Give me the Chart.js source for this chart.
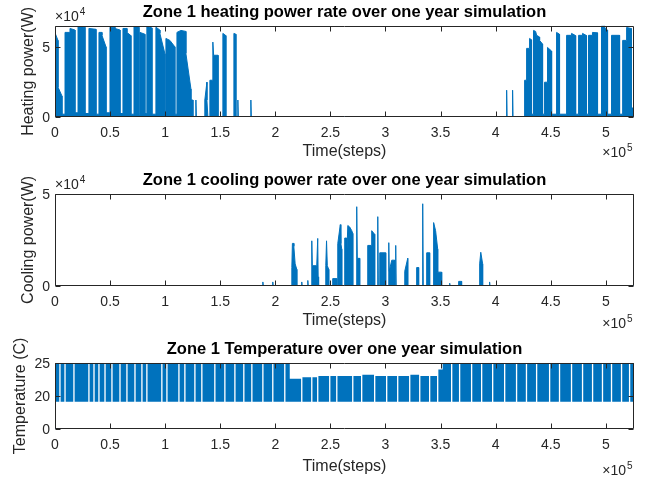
<!DOCTYPE html>
<html>
<head>
<meta charset="utf-8">
<script src="https://cdn.jsdelivr.net/npm/chart.js@4.4.0/dist/chart.umd.min.js"></script>
<style>
html, body { margin: 0; padding: 0; background: #fff; overflow: hidden; }
#wrap { position: relative; width: 646px; height: 479px; }
canvas { position: absolute; left: 0; }
.ytick { position: absolute; left: 0; width: 50px; height: 16px; line-height: 16px; text-align: right;
         font: 14px "Liberation Sans", Arial, Helvetica, sans-serif; color: #262626; }
</style>
</head>
<body>
<div id="wrap">
  <canvas id="heatChart" width="646" height="168" style="top:0px"></canvas>
  <canvas id="coolChart" width="646" height="170" style="top:168px"></canvas>
  <canvas id="tempChart" width="646" height="142" style="top:337px"></canvas>
</div>
<script>
// time axis (steps, one year of minutes)
var timeMax = 525600;

// heating power (W)
var heatX = [0, 2700, 2700, 6300, 6300, 9100, 9100, 13600, 13600, 18100, 18100, 20900, 20900, 27200, 27200, 30800,
  30800, 37200, 37200, 39900, 39900, 42600, 42600, 46300, 46300, 49900, 49900, 54400, 54400, 59000, 59000, 61700,
  61700, 65300, 65300, 68900, 68900, 71700, 71700, 76200, 76200, 77100, 77100, 81600, 81600, 83400, 83400, 88000,
  88000, 91600, 91600, 95200, 95200, 99800, 99800, 100700, 100700, 104300, 108800, 108800, 110700, 110700, 114300,
  118800, 118800, 123400, 123400, 125200, 125200, 127900, 127900, 128300, 136000, 136000, 137900, 137900, 138800,
  140600, 140600, 143300, 143300, 144000, 148000, 148000, 152400, 152400, 155100, 155100, 162400, 162400, 164200,
  164200, 166000, 166000, 166400, 177800, 177800, 178200,
  410000, 410000, 410400, 415400, 415400, 415800, 426300, 426300, 428100, 428100, 430800, 430800, 432600, 432600,
  434400, 434400, 436300, 437200, 439900, 439900, 442600, 442600, 444400, 444400, 447100, 447100, 450800, 450800,
  455300, 455300, 458000, 458000, 464400, 464400, 468900, 468900, 472600, 472600, 475300, 475300, 478900, 478900,
  482500, 482500, 484300, 484300, 487900, 487900, 492500, 492500, 496100, 496100, 498900, 498900, 501600, 501600,
  505200, 505200, 512500, 512500, 515300, 515300, 518900, 518900, 523300, 523300, 525600];
var heatY = [60000, 54600, 21300, 15000, 2000, 2000, 60300, 60300, 63100, 62000, 3000, 3000, 64500, 64000, 2500, 2500,
  63100, 62500, 2000, 2000, 60300, 60300, 58200, 50000, 3000, 3000, 64000, 64000, 63100, 62000, 2500, 2500,
  63100, 63100, 60300, 58000, 2000, 2000, 64500, 64000, 2000, 2000, 60300, 59000, 2500, 2500, 64500, 63500,
  2000, 2000, 64000, 62000, 59600, 45000, 2000, 2000, 56000, 54600, 50000, 2000, 2000, 60300, 61700,
  61000, 45400, 20000, 12100, 12100, 0, 0, 12100, 0, 0, 12100, 24800, 12100, 0,
  0, 26200, 26200, 53400, 44000, 44000, 0, 0, 59600, 58000, 0, 0, 59600, 59000,
  0, 0, 12100, 0, 0, 12100, 0,
  0, 19100, 0, 0, 19100, 0, 0, 26200, 26200, 48900, 48900, 56000, 55000, 2000,
  2000, 61700, 61000, 58200, 57000, 54600, 52000, 2000, 2000, 24800, 24800, 49600, 47000, 2000,
  2000, 60300, 59000, 2000, 2000, 58200, 58200, 59600, 58000, 2000, 2000, 58200, 58200, 59600,
  58000, 2000, 2000, 58200, 58200, 60300, 60000, 2000, 2000, 65000, 65000, 63800, 62000, 2000,
  2000, 58200, 58200, 2000, 2000, 54600, 54600, 63800, 63000, 6400, 6400];

// cooling power (W)
var coolX = [0, 188700, 188700, 189100, 197700, 197700, 198100, 215000, 215000, 215500, 216800, 216800, 218000, 219500,
  219500, 224000, 224000, 224400, 229500, 229500, 229900, 233100, 233100, 233600, 237600, 238500, 238900, 239300,
  245800, 245800, 246500, 247200, 248500, 248500, 252100, 252100, 255800, 255800, 256700, 256700, 259000, 259500,
  260300, 260300, 263000, 263000, 264800, 264800, 265800, 267500, 269400, 270300, 270300, 273400, 273900, 274400,
  276600, 276600, 283900, 283900, 287500, 287500, 290200, 290200, 293000, 293000, 293500, 294800, 294800, 300200,
  300200, 303000, 303000, 303400, 305700, 308400, 308400, 309300, 309300, 309700, 317500, 317500, 320200, 320200,
  328300, 328300, 330100, 330100, 333800, 333800, 334300, 337400, 337400, 340100, 340100, 343700, 343700, 345500,
  347400, 347400, 351000, 351000, 358300, 358300, 358700, 366400, 366400, 369100, 369100, 385500, 385500, 386500,
  388200, 388200, 394500, 394500, 394900, 525600];
var coolY = [0, 0, 2200, 0, 0, 2200, 0, 0, 10000, 23100, 23100, 21500, 12000, 9000,
  0, 0, 2200, 0, 0, 3000, 0, 0, 24500, 11000, 11000, 25800, 5000, 0,
  0, 11000, 24500, 11000, 9000, 0, 0, 4000, 4000, 0, 0, 23000, 33300, 23000,
  20000, 0, 0, 26000, 26000, 15000, 32800, 32000, 30000, 28500, 0, 0, 43000, 15000,
  15000, 0, 0, 22000, 22000, 30000, 28000, 0, 0, 37600, 0, 0, 18000, 18000,
  0, 0, 23500, 8000, 14000, 14000, 0, 0, 22000, 0, 0, 8000, 15000, 0,
  0, 10000, 10000, 0, 0, 44600, 0, 0, 18000, 18000, 0, 0, 34400, 30000,
  20000, 7500, 7500, 0, 0, 1500, 0, 0, 2500, 2500, 0, 0, 12000, 18300,
  12000, 0, 0, 2200, 0, 0];

// zone temperature: dense oscillation bands (start, end, upper value), gaps between them
var tempStart = [0, 5100, 9700, 17800, 31400, 36000, 40500, 46000, 52300, 59600, 65900, 73200, 79500, 84000,
  97600, 102200, 113100, 118500, 127600, 133900, 145700, 154800, 163900, 172000, 179300, 189300, 198300, 209200,
  213100, 224600, 233700, 239100, 250000, 256400, 270900, 279000, 290800, 301700, 311700, 322600, 331700, 340700, 348000,
  351900, 360700, 367900, 378800, 387900, 397900, 408800, 419600, 428600, 437800, 449600, 458600, 469500, 479500,
  488600, 497600, 505800, 514900, 522200];
var tempEnd = [3900, 8500, 16600, 30200, 34800, 39300, 44800, 51100, 58400, 64700, 72000, 78300, 82800, 96400,
  101000, 111900, 117300, 126400, 132700, 144500, 153600, 162700, 170800, 178100, 188100, 197100, 208000, 213100,
  223400, 232500, 237900, 248800, 255200, 269700, 277800, 289600, 300500, 310500, 321400, 330500, 339500, 346800, 351900,
  359500, 366700, 377600, 386700, 396700, 407600, 418400, 427400, 436600, 448400, 457400, 468300, 478300, 487400,
  496400, 504600, 513700, 521000, 525600];
var tempTop = [25, 25, 25, 25, 25, 25, 25, 25, 25, 25, 25, 25, 25, 25,
  25, 25, 25, 25, 25, 25, 25, 25, 25, 25, 25, 25, 25, 25,
  22.6, 22.8, 22.8, 23, 23, 23, 23, 23.2, 23, 23, 23, 23.2, 23, 23, 24,
  25, 25, 25, 25, 25, 25, 25, 25, 25, 25, 25, 25, 25, 25,
  25, 25, 25, 25, 25];
var tempBottom = 19.1;
// short trace lying on the bottom ("0") of the temperature axis at the start
var tempFloorX = [0, 20000];
var tempFloorY = [15, 15];

// tick positions
var xTickValues = [0, 50000, 100000, 150000, 200000, 250000, 300000, 350000, 400000, 450000, 500000];
var heatTickValues = [0, 50000];
var coolTickValues = [0, 50000];
var tempTickValues = [15, 20, 25];

var lineBlue = '#0072BD';
var axisGrey = '#262626';
Chart.defaults.font.family = '"Liberation Sans", Arial, Helvetica, sans-serif';
Chart.defaults.color = axisGrey;

function toPoints(xs, ys) {
  return xs.map(function(x, i) { return { x: x, y: ys[i] }; });
}

function fixedTicks(values) {
  return function(s) { s.ticks = values.map(function(v) { return { value: v }; }); };
}

var tempPoints = [];
tempStart.forEach(function(s, i) {
  tempPoints.push({ x: s, y: tempBottom }, { x: s, y: tempTop[i] },
                  { x: tempEnd[i], y: tempTop[i] }, { x: tempEnd[i], y: tempBottom });
});

// MATLAB-style box with inward ticks and the exponent labels
var matlabBox = {
  id: 'matlabBox',
  afterDraw: function(chart, args, opts) {
    var ctx = chart.ctx, a = chart.chartArea, xs = chart.scales.x, ys = chart.scales.y;
    var l = Math.round(a.left) + 0.5, r = Math.round(a.right) - 0.5;
    var t = Math.round(a.top) + 0.5, b = Math.round(a.bottom) - 0.5;
    var fam = Chart.defaults.font.family;
    ctx.save();
    ctx.strokeStyle = axisGrey;
    ctx.lineWidth = 1;
    ctx.beginPath();
    ctx.rect(l, t, r - l, b - t);
    xTickValues.forEach(function(v) {
      var px = Math.round(xs.getPixelForValue(v)) + 0.5;
      ctx.moveTo(px, b); ctx.lineTo(px, b - 5);
      ctx.moveTo(px, t); ctx.lineTo(px, t + 5);
    });
    opts.yTicks.forEach(function(v) {
      var py = Math.round(ys.getPixelForValue(v)) + 0.5;
      ctx.moveTo(l, py); ctx.lineTo(l + 5, py);
      ctx.moveTo(r, py); ctx.lineTo(r - 5, py);
    });
    ctx.stroke();
    ctx.fillStyle = axisGrey;
    ctx.textBaseline = 'alphabetic';
    ctx.font = '14px ' + fam;
    ctx.textAlign = 'right';
    ctx.fillText('\u00d710', a.right - 8, a.bottom + opts.xExpDy);
    ctx.font = '10px ' + fam;
    ctx.textAlign = 'left';
    ctx.fillText('5', a.right - 7, a.bottom + opts.xExpDy - 6);
    if (opts.yExp) {
      ctx.font = '14px ' + fam;
      ctx.textAlign = 'left';
      ctx.fillText('\u00d710', a.left, a.top - 5);
      var w = ctx.measureText('\u00d710').width;
      ctx.font = '10px ' + fam;
      ctx.fillText(opts.yExp, a.left + w + 1, a.top - 11);
    }
    ctx.restore();
  }
};

// y tick labels placed from the chart's own y scale
function addYLabels(chart, c) {
  var wrap = document.getElementById('wrap');
  var a = chart.chartArea;
  c.yTicks.forEach(function(v) {
    var py = a.bottom - (v - c.yMin) / (c.yMax - c.yMin) * (a.bottom - a.top);
    var s = document.createElement('div');
    s.className = 'ytick';
    s.style.top = (c.canvasTop + py - 8) + 'px';
    s.textContent = String(c.yLabel(v));
    wrap.appendChild(s);
  });
}

function makeChart(id, c) {
  var chart = new Chart(document.getElementById(id), {
    type: 'line',
    data: { datasets: c.datasets },
    options: {
      responsive: false,
      animation: false,
      parsing: false,
      layout: { padding: { left: 0, right: 12, top: 0, bottom: 0 } },
      plugins: {
        legend: { display: false },
        tooltip: { enabled: false },
        title: { display: true, text: c.title, color: '#000', fullSize: false,
                 font: { size: 16.5, weight: 'bold' }, padding: { top: 3, bottom: 3 } },
        matlabBox: { xExpDy: c.xExpDy, yExp: c.yExp, yTicks: c.yTicks }
      },
      scales: {
        x: {
          type: 'linear', min: 0, max: timeMax, bounds: 'data',
          grid: { display: false, drawTicks: false }, border: { display: false },
          afterBuildTicks: fixedTicks(xTickValues),
          afterFit: function(s) { s.height = c.xAxisHeight; },
          ticks: { padding: 8, maxRotation: 0, autoSkip: false, font: { size: 14 },
                   callback: function(v) { return v / 1e5; } },
          title: { display: true, text: 'Time(steps)', font: { size: 16 }, padding: { top: 0, bottom: c.xTitlePad } }
        },
        y: {
          type: 'linear', min: c.yMin, max: c.yMax, bounds: 'data',
          grid: { display: false, drawTicks: false }, border: { display: false },
          afterBuildTicks: fixedTicks(c.yTicks),
          afterFit: function(s) { s.width = 55; },
          ticks: { display: false },
          title: { display: true, text: c.yTitle, font: { size: 16 }, padding: { top: c.yTitlePad, bottom: 0 } }
        }
      }
    },
    plugins: [matlabBox]
  });
  addYLabels(chart, c);
  return chart;
}

function seriesStyle(points) {
  return { data: points, borderColor: lineBlue, backgroundColor: lineBlue, borderWidth: 1,
           pointRadius: 0, fill: 'origin', tension: 0 };
}

makeChart('heatChart', {
  title: 'Zone 1 heating power rate over one year simulation', canvasTop: 0,
  datasets: [seriesStyle(toPoints(heatX, heatY))],
  yMin: 0, yMax: 65000, yTicks: heatTickValues, yExp: '4',
  yLabel: function(v) { return v / 1e4; },
  yTitle: 'Heating power(W)', yTitlePad: 19,
  xAxisHeight: 51, xTitlePad: 7, xExpDy: 40
});

makeChart('coolChart', {
  title: 'Zone 1 cooling power rate over one year simulation', canvasTop: 168,
  datasets: [seriesStyle(toPoints(coolX, coolY))],
  yMin: 0, yMax: 50000, yTicks: coolTickValues, yExp: '4',
  yLabel: function(v) { return v / 1e4; },
  yTitle: 'Cooling power(W)', yTitlePad: 19,
  xAxisHeight: 52, xTitlePad: 8, xExpDy: 42
});

makeChart('tempChart', {
  title: 'Zone 1 Temperature over one year simulation', canvasTop: 337,
  datasets: [
    { data: tempPoints, borderColor: lineBlue, backgroundColor: lineBlue, borderWidth: 0,
      pointRadius: 0, fill: { value: tempBottom }, tension: 0 },
    { data: toPoints(tempFloorX, tempFloorY), borderColor: lineBlue, borderWidth: 1.5,
      pointRadius: 0, fill: false }
  ],
  yMin: 15, yMax: 25, yTicks: tempTickValues, yExp: null,
  yLabel: function(v) { return v === 15 ? '0' : v; },
  yTitle: 'Temperature (C)', yTitlePad: 11,
  xAxisHeight: 50, xTitlePad: 3, xExpDy: 46
});
</script>
</body>
</html>
